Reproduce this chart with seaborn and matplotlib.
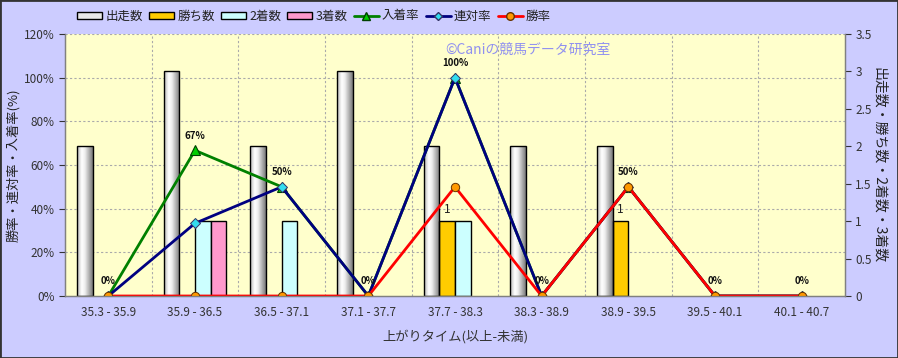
import numpy as np
import pandas as pd
import matplotlib
matplotlib.use("Agg")
import matplotlib.pyplot as plt
import seaborn as sns
from matplotlib.colors import LinearSegmentedColormap
from matplotlib.patches import Patch, Rectangle
from matplotlib.lines import Line2D

categories = ["35.3 - 35.9", "35.9 - 36.5", "36.5 - 37.1", "37.1 - 37.7", "37.7 - 38.3",
              "38.3 - 38.9", "38.9 - 39.5", "39.5 - 40.1", "40.1 - 40.7"]
runs = [2, 3, 2, 3, 2, 2, 2, 0, 0]
wins = [0, 0, 0, 0, 1, 0, 1, 0, 0]
seconds = [0, 1, 1, 0, 1, 0, 0, 0, 0]
thirds = [0, 1, 0, 0, 0, 0, 0, 0, 0]
place_rate = [0, 66.7, 50, 0, 100, 0, 50, 0, 0]
rentai_rate = [0, 33.3, 50, 0, 100, 0, 50, 0, 0]
win_rate = [0, 0, 0, 0, 50, 0, 50, 0, 0]
bar_names = ["出走数", "勝ち数", "2着数", "3着数"]
left_ticks = [0, 20, 40, 60, 80, 100, 120]
right_ticks = [0, 0.5, 1, 1.5, 2, 2.5, 3, 3.5]

sns.set_theme(style="white")
plt.rcParams['font.family'] = ['Noto Sans CJK JP', 'DejaVu Sans']

fig = plt.figure(figsize=(8.98, 3.58), dpi=100, facecolor="#CCCCFF")
ax = fig.add_axes([65/898, 1-296/358, 780/898, 262/358])
ax.set_facecolor("#FFFFCC")

df = pd.DataFrame({
    "cat": categories * 4,
    "series": sum([[n] * len(categories) for n in bar_names], []),
    "val": runs + wins + seconds + thirds,
})
bar_colors = ["#E8E8E8", "#FFCC00", "#CCFFFF", "#FF99CC"]
sns.barplot(data=df, x="cat", y="val", hue="series", hue_order=bar_names, order=categories,
            palette=bar_colors, width=0.72, edgecolor="black", linewidth=1.0,
            legend=False, ax=ax, zorder=2, saturation=1)

# gradient for runs bars
cmap = LinearSegmentedColormap.from_list("cyl", [(0, "#b8b8b8"), (0.3, "#ffffff"), (0.5, "#eeeeee"),
                                                 (0.8, "#a8a8a8"), (1, "#7a7a7a")])
grad = np.linspace(0, 1, 64).reshape(1, -1)
for ci, cont in enumerate(ax.containers):
    for p in cont.patches:
        if p.get_height() <= 0:
            p.set_visible(False)
            continue
        if ci == 0:
            x0, w, h = p.get_x(), p.get_width(), p.get_height()
            im = ax.imshow(grad, extent=[x0, x0 + w, 0, h], aspect="auto", cmap=cmap, zorder=1.9)
            im.set_clip_path(p)
            p.set_facecolor("none")
            p.set_zorder(2.1)

# gridlines (behind bars)
for t in left_ticks[1:]:
    ax.axhline(t * 3.5 / 120, color="#aaaaaa", lw=0.8, ls=(0, (2, 2)), zorder=0.5)
for i in range(len(categories) - 1):
    ax.axvline(i + 0.5, color="#aaaaaa", lw=0.8, ls=(0, (2, 2)), zorder=0.5)

# bar labels for wins
for i, v in enumerate(wins):
    if v > 0:
        ax.annotate(str(v), (i - 0.36 + 0.18 * 1.5, v), xytext=(0, 4), textcoords="offset points",
                    ha="center", va="bottom", fontsize=8.5, color="#222222")

ax2 = ax.twinx()
x = np.arange(len(categories))
sns.lineplot(x=x, y=place_rate, ax=ax2, color="#008000", lw=2.0, marker="^", markersize=7.5,
             markerfacecolor="#00CC00", markeredgecolor="#004000", markeredgewidth=0.8, legend=False)
sns.lineplot(x=x, y=rentai_rate, ax=ax2, color="#000080", lw=2.0, marker="D", markersize=5.5,
             markerfacecolor="#33DDEE", markeredgecolor="#333366", markeredgewidth=0.7, legend=False)
sns.lineplot(x=x, y=win_rate, ax=ax2, color="#FF0000", lw=2.0, marker="o", markersize=6,
             markerfacecolor="#FF9900", markeredgecolor="#663300", markeredgewidth=0.7, legend=False)
for i, v in enumerate(place_rate):
    ax2.annotate(f"{round(v)}%", (i, v), xytext=(0, 7), textcoords="offset points",
                 ha="center", va="bottom", fontsize=7, fontweight="bold", color="#111111")

# right axis (counts) on ax, left axis (rates) on ax2
ax.set_xlim(-0.5, len(categories) - 0.5)
ax.set_ylim(0, 3.5)
ax.set_yticks(right_ticks)
ax.set_yticklabels(["0", "0.5", "1", "1.5", "2", "2.5", "3", "3.5"])
ax.yaxis.tick_right()
ax.yaxis.set_label_position("right")
ax.set_ylabel("出走数・勝ち数・2着数・3着数", rotation=270, labelpad=10, fontsize=10, color="#222222")
ax.set_xlabel("上がりタイム(以上-未満)", fontsize=9.5, color="#333333", labelpad=8)
ax.tick_params(axis="x", length=0, labelsize=8.5, colors="#333333", pad=7)
ax.tick_params(axis="y", length=4, labelsize=8.5, colors="#333333", direction="out", width=0.8,
               left=False, labelleft=False, right=True, labelright=True)

ax2.set_ylim(0, 120)
ax2.set_xlim(-0.5, len(categories) - 0.5)
ax2.set_yticks(left_ticks)
ax2.set_yticklabels([f"{t}%" for t in left_ticks])
ax2.yaxis.tick_left()
ax2.yaxis.set_label_position("left")
ax2.set_ylabel("勝率・連対率・入着率(%)", fontsize=9.5, color="#222222", labelpad=3)
ax2.tick_params(axis="y", length=4, labelsize=8.5, colors="#333333", direction="out", width=0.8,
                left=True, labelleft=True, right=False, labelright=False)

for a in (ax, ax2):
    for s in a.spines.values():
        s.set_color("#808080")
        s.set_linewidth(0.9)
    a.spines["top"].set_visible(False)

fig.text(445/898, 1-50/358, "©Caniの競馬データ研究室", fontsize=10, color="#9090F0",
         ha="left", va="center")

handles = [
    Patch(facecolor="#E8E8E8", edgecolor="black", lw=1.0),
    Patch(facecolor="#FFCC00", edgecolor="black", lw=1.0),
    Patch(facecolor="#CCFFFF", edgecolor="black", lw=1.0),
    Patch(facecolor="#FF99CC", edgecolor="black", lw=1.0),
    Line2D([], [], color="#008000", lw=2, marker="^", markersize=6, markerfacecolor="#00CC00",
           markeredgecolor="#004000"),
    Line2D([], [], color="#000080", lw=2, marker="D", markersize=4.5, markerfacecolor="#33DDEE",
           markeredgecolor="#333366"),
    Line2D([], [], color="#FF0000", lw=2, marker="o", markersize=5.5, markerfacecolor="#FF9900",
           markeredgecolor="#663300"),
]
labels = ["出走数", "勝ち数", "2着数", "3着数", "入着率", "連対率", "勝率"]
fig.legend(handles, labels, loc="center", bbox_to_anchor=(314/898, 1-16/358), ncol=7,
           frameon=False, fontsize=9, handlelength=2.0, handleheight=0.5, handletextpad=0.25,
           columnspacing=0.5, labelcolor="#222222")

fig.patches.append(Rectangle((0, 0), 1, 1, transform=fig.transFigure, fill=False,
                             edgecolor="#333333", lw=2, zorder=10))

fig.savefig("out.png", dpi=100, facecolor=fig.get_facecolor())
